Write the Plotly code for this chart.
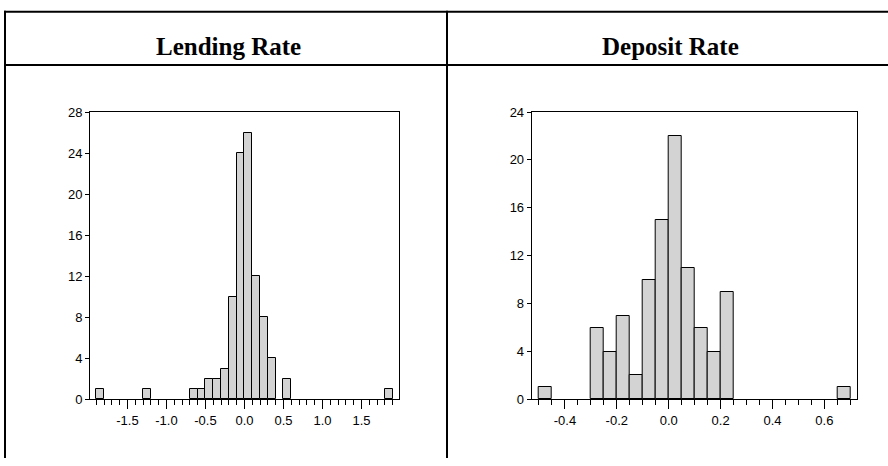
import plotly.graph_objects as go

# ---------------- data ----------------
titles = ["Lending Rate", "Deposit Rate"]

lending_bin_left = [-1.9, -1.3, -0.7, -0.6, -0.5, -0.4, -0.3, -0.2, -0.1, 0.0, 0.1, 0.2, 0.3, 0.5, 1.8]
lending_counts   = [1, 1, 1, 1, 2, 2, 3, 10, 24, 26, 12, 8, 4, 2, 1]
lending_bin_width = 0.1
lending_xticks = [-1.5, -1.0, -0.5, 0.0, 0.5, 1.0, 1.5]
lending_yticks = [0, 4, 8, 12, 16, 20, 24, 28]

deposit_bin_left = [-0.5, -0.3, -0.25, -0.2, -0.15, -0.1, -0.05, 0.0, 0.05, 0.1, 0.15, 0.2, 0.65]
deposit_counts   = [1, 6, 4, 7, 2, 10, 15, 22, 11, 6, 4, 9, 1]
deposit_bin_width = 0.05
deposit_xticks = [-0.4, -0.2, 0.0, 0.2, 0.4, 0.6]
deposit_yticks = [0, 4, 8, 12, 16, 20, 24]

# ---------------- figure ----------------
W, H = 888, 466
fig = go.Figure()

bar_style = dict(marker=dict(color="#d3d3d3", line=dict(color="black", width=1)),
                 showlegend=False, hoverinfo="x+y")

fig.add_trace(go.Bar(x=[b + lending_bin_width / 2 for b in lending_bin_left], y=lending_counts,
                     width=lending_bin_width, xaxis="x", yaxis="y", **bar_style))
fig.add_trace(go.Bar(x=[b + deposit_bin_width / 2 for b in deposit_bin_left], y=deposit_counts,
                     width=deposit_bin_width, xaxis="x2", yaxis="y2", **bar_style))

def px_x(p):
    return p / W

def px_y(p):
    return 1 - p / H

tickfont = dict(family="Liberation Sans, Arial, sans-serif", size=13, color="black")

def xaxis(rng, tickvals, minor_dtick, domain, anchor):
    return dict(domain=domain, anchor=anchor, range=rng,
                tickmode="array", tickvals=tickvals,
                ticktext=[f"{v:.1f}" for v in tickvals],
                ticks="outside", ticklen=9, tickwidth=1, tickcolor="black",
                minor=dict(dtick=minor_dtick, tick0=0, ticks="outside", ticklen=5,
                           tickwidth=1, tickcolor="black", showgrid=False),
                showline=True, linecolor="black", linewidth=1, mirror=True,
                showgrid=False, zeroline=False, tickfont=tickfont)

def yaxis(rng, tickvals, domain, anchor):
    return dict(domain=domain, anchor=anchor, range=rng,
                tickmode="array", tickvals=tickvals,
                ticks="outside", ticklen=4, tickwidth=1, tickcolor="black",
                showline=True, linecolor="black", linewidth=1, mirror=True,
                showgrid=False, zeroline=False, tickfont=tickfont)

ydom = [px_y(405.5), px_y(108.5)]
fig.update_layout(
    width=W, height=H,
    margin=dict(l=0, r=0, t=0, b=0),
    paper_bgcolor="white", plot_bgcolor="white",
    bargap=0,
    xaxis=xaxis([-1.98, 1.985], lending_xticks, 0.1, [px_x(90), px_x(399.3)], "y"),
    yaxis=yaxis([0, 28], lending_yticks, ydom, "x"),
    xaxis2=xaxis([-0.528, 0.727], deposit_xticks, 0.05, [px_x(531.7), px_x(857.3)], "y2"),
    yaxis2=yaxis([0, 24], deposit_yticks, ydom, "x2"),
)

# table lines
line = dict(color="black", width=2)
shapes = [
    dict(type="line", xref="paper", yref="paper", x0=px_x(4), x1=1, y0=px_y(5), y1=px_y(5), line=line),
    dict(type="line", xref="paper", yref="paper", x0=px_x(4), x1=1, y0=px_y(60), y1=px_y(60), line=line),
    dict(type="line", xref="paper", yref="paper", x0=px_x(5), x1=px_x(5), y0=px_y(4), y1=0, line=line),
    dict(type="line", xref="paper", yref="paper", x0=px_x(447), x1=px_x(447), y0=px_y(4), y1=0, line=line),
]
fig.update_layout(shapes=shapes)

# header titles
title_font = dict(family="Liberation Serif, Times New Roman, serif", size=25, color="black")
for t, cx in zip(titles, [228, 670]):
    fig.add_annotation(text=f"<b>{t}</b>", xref="paper", yref="paper",
                       x=px_x(cx), y=px_y(41), xanchor="center", yanchor="middle",
                       showarrow=False, font=title_font)

fig.write_html("out.html", config={"displayModeBar": False},
               post_script="document.body.style.margin='0px';")
